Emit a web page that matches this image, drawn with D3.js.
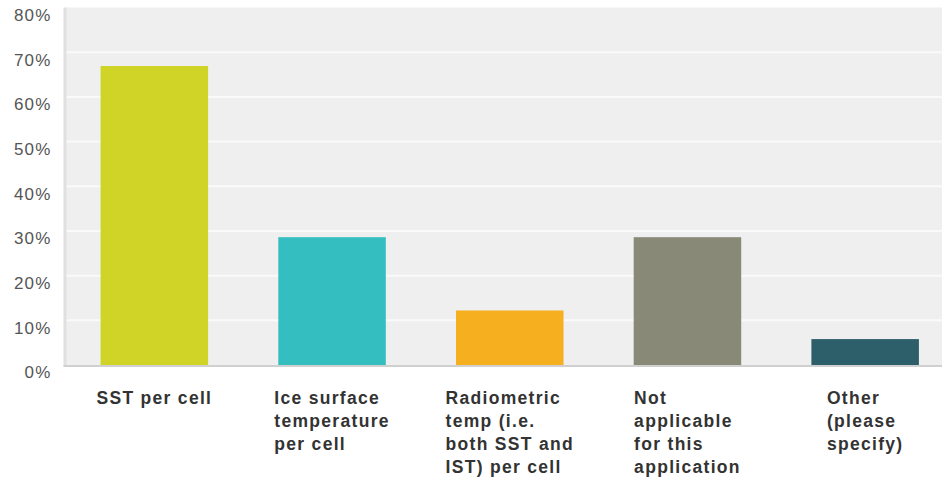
<!DOCTYPE html>
<html><head><meta charset="utf-8">
<script src="https://cdn.jsdelivr.net/npm/d3@7"></script>
<style>body{margin:0;background:#fff;}svg{display:block;}</style>
</head><body>
<svg id="c" width="942" height="479"></svg>
<script>
const categories = ["SST per cell","Ice surface temperature per cell","Radiometric temp (i.e. both SST and IST) per cell","Not applicable for this application","Other (please specify)"];
const labelLines = [["SST per cell"],["Ice surface","temperature","per cell"],["Radiometric","temp (i.e.","both SST and","IST) per cell"],["Not","applicable","for this","application"],["Other","(please","specify)"]];
const values = [66.9, 28.6, 12.2, 28.6, 5.8];
const colors = ["#cfd427","#35bec0","#f6af1f","#898978","#2d5f6b"];
const yTicks = [0,10,20,30,40,50,60,70,80];

const svg = d3.select("#c");
const pL = 65.5, pR = 954, pT = 7.5, pB = 365;
const x = d3.scaleBand().domain(categories).range([pL, pR]).paddingInner(0.395).paddingOuter(0.1975);
const y = d3.scaleLinear().domain([0, 80]).range([pB, pT]);

svg.append("rect").attr("x", pL).attr("y", pT).attr("width", 942-pL).attr("height", pB-pT).attr("fill", "#efefef");
svg.append("g").selectAll("line").data(yTicks.filter(d=>d>0 && d<80)).join("line")
  .attr("x1", pL).attr("x2", 942).attr("y1", d=>y(d)).attr("y2", d=>y(d))
  .attr("stroke", "#fafafa").attr("stroke-width", 2);
svg.append("rect").attr("x", pL-2).attr("y", pT).attr("width", 3).attr("height", pB-pT+1).attr("fill", "#e0e0e0");
svg.append("g").selectAll("rect").data(values).join("rect")
  .attr("x", (d,i)=>x(categories[i])).attr("width", x.bandwidth())
  .attr("y", d=>y(d)).attr("height", d=>pB - y(d))
  .attr("fill", (d,i)=>colors[i]);
svg.append("rect").attr("x", pL-2).attr("y", pB).attr("width", 942-pL+2).attr("height", 2).attr("fill", "#d0d0d0");
const yAxis = d3.axisLeft(y).tickValues(yTicks).tickFormat(d=>d+"%").tickSize(0).tickPadding(14);
const ga = svg.append("g").attr("transform", `translate(${pL},0)`).call(yAxis);
ga.select(".domain").remove();
ga.selectAll("text").attr("font-family", "Liberation Sans, Arial, sans-serif").attr("font-size", 17)
  .attr("letter-spacing", 1.2).attr("fill", "#555").attr("dy", "0.32em").attr("y", 7.5);
const lg = svg.append("g");
categories.forEach((c,i)=>{
  const t = lg.append("text").attr("font-family", "Liberation Sans, Arial, sans-serif").attr("font-size", 17.5)
    .attr("letter-spacing", 1.3).attr("font-weight", "bold").attr("fill", "#333");
  labelLines[i].forEach((ln,j)=>{
    t.append("tspan").attr("x", 0).attr("y", 404 + j*23).text(ln);
  });
  let w = 0;
  t.selectAll("tspan").each(function(){ w = Math.max(w, this.getComputedTextLength()); });
  const cx = x(c) + x.bandwidth()/2;
  t.attr("transform", `translate(${cx - w/2},0)`);
});
</script>
</body></html>
